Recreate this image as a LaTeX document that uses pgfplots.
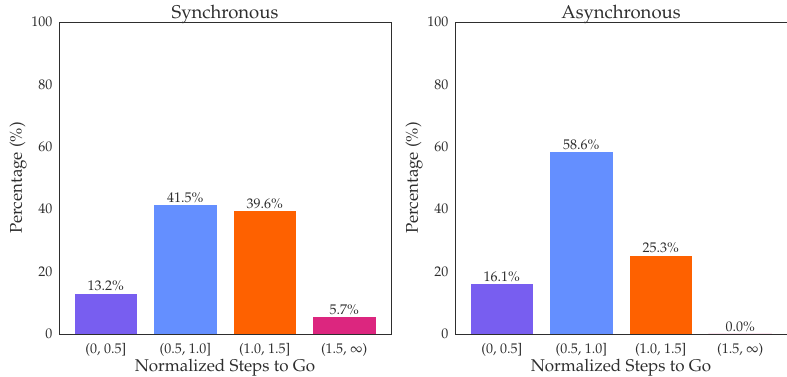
\documentclass[border=0pt]{standalone}
\usepackage[T1]{fontenc}
\usepackage{mathpazo}
\usepackage{pgfplots}
\pgfplotsset{compat=1.18}
\definecolor{cpurple}{HTML}{785EF0}
\definecolor{cblue}{HTML}{648FFF}
\definecolor{corange}{HTML}{FE6100}
\definecolor{cmagenta}{HTML}{DC267F}
\definecolor{txt}{HTML}{2E2E2E}
\pgfplotsset{mystyle/.style={
  scale only axis, width=332pt, height=312pt,
  xmin=-0.59, xmax=3.59, ymin=0, ymax=100,
  ytick={0,20,40,60,80,100}, xtick={0,1,2,3},
  xticklabels={{(0, 0.5]},{(0.5, 1.0]},{(1.0, 1.5]},{(1.5, $\infty$)}},
  major tick length=0pt,
  axis line style={draw=txt, line width=0.9pt},
  ticklabel style={font=\fontsize{14}{16}\selectfont, text=txt},
  yticklabel style={xshift=-3pt},
  xticklabel style={yshift=-6pt},
  label style={font=\fontsize{17}{20}\selectfont, text=txt},
  title style={font=\fontsize{18.5}{21}\selectfont, text=txt, yshift=-11pt},
  xlabel={Normalized Steps to Go}, ylabel={Percentage (\%)},
  xlabel style={yshift=4pt},
  ylabel style={yshift=-2pt},
  ybar, bar width=0.8, bar shift=0pt,
  nodes near coords={\pgfmathprintnumber[fixed,precision=1,zerofill]{\pgfplotspointmeta}\%},
  every node near coord/.append style={font=\fontsize{14}{16}\selectfont, text=txt, inner sep=1.5pt},
  every axis plot/.append style={draw=white, line width=0.6pt},
}}
\begin{document}
\begin{tikzpicture}
\useasboundingbox (0,0) rectangle (787pt,377pt);
\begin{axis}[mystyle, at={(59pt,43pt)}, anchor=south west, title={Synchronous}]
\addplot[fill=cpurple] coordinates {(0,13.2)};
\addplot[fill=cblue] coordinates {(1,41.5)};
\addplot[fill=corange] coordinates {(2,39.6)};
\addplot[fill=cmagenta] coordinates {(3,5.7)};
\end{axis}
\begin{axis}[mystyle, at={(455pt,43pt)}, anchor=south west, title={Asynchronous}]
\addplot[fill=cpurple] coordinates {(0,16.1)};
\addplot[fill=cblue] coordinates {(1,58.6)};
\addplot[fill=corange] coordinates {(2,25.3)};
\addplot[fill=cmagenta, draw=none] coordinates {(3,0.0)};
\end{axis}
\end{tikzpicture}
\end{document}
